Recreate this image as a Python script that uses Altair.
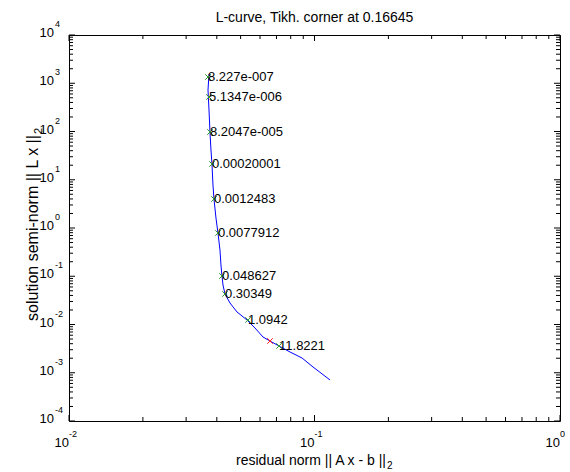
import altair as alt
import pandas as pd

# ---- data ----
curve_x = [0.03718, 0.03683, 0.03718, 0.03752, 0.03787, 0.03823, 0.03859, 0.03895,
           0.03969, 0.04044, 0.04121, 0.04159, 0.04199, 0.04239, 0.04319, 0.04527,
           0.04834, 0.05310, 0.05723, 0.06169, 0.06588, 0.07170, 0.07947, 0.08895,
           0.09861, 0.1157]
curve_y = [1555, 724.6, 279.0, 97.63, 41.36, 21.20, 7.783, 3.990,
           1.612, 0.7876, 0.3499, 0.1711, 0.1012, 0.06588, 0.04286, 0.02790,
           0.01816, 0.01240, 0.008464, 0.005507, 0.004550, 0.003584, 0.002692, 0.002022,
           0.001316, 0.0007074]

marker_x = [0.03683, 0.03718, 0.03752, 0.03823, 0.03895, 0.04044, 0.04199, 0.04319, 0.05359, 0.07170]
marker_y = [1347, 518.8, 97.63, 21.20, 3.990, 0.7876, 0.1012, 0.04286, 0.01240, 0.003584]
marker_labels = ["8.227e-007", "5.1347e-006", "8.2047e-005", "0.00020001", "0.0012483",
                 "0.0077912", "0.048627", "0.30349", "1.0942", "11.8221"]

corner_x = [0.06588]
corner_y = [0.004550]

x_major = [0.01, 0.1, 1.0]
x_exp = ["-2", "-1", "0"]
y_major = [1e-4, 1e-3, 1e-2, 1e-1, 1e0, 1e1, 1e2, 1e3, 1e4]
y_exp = ["-4", "-3", "-2", "-1", "0", "1", "2", "3", "4"]
minor_mult = [2, 3, 4, 5, 6, 7, 8, 9]

title_text = "L-curve, Tikh. corner at 0.16645"
xlabel_main = "residual norm || A x - b ||"
ylabel_main = "solution semi-norm || L x ||"
sub_text = "2"

# ---- layout ----
W, H = 491, 386
FONT = "Liberation Sans"
MAJ, MIN = 6, 4

x_minor = [m * d for d in x_major[:-1] for m in minor_mult]
y_minor = [m * d for d in y_major[:-1] for m in minor_mult]

xs = alt.Scale(type="log", domain=[0.01, 1], nice=False)
ys = alt.Scale(type="log", domain=[1e-4, 1e4], nice=False)

curve_df = pd.DataFrame({"x": curve_x, "y": curve_y, "i": list(range(len(curve_x)))})
mk_df = pd.DataFrame({"x": marker_x, "y": marker_y, "t": marker_labels})
cor_df = pd.DataFrame({"x": corner_x, "y": corner_y})
xmaj_df = pd.DataFrame({"v": x_major, "e": x_exp})
ymaj_df = pd.DataFrame({"v": y_major, "e": y_exp})
xmin_df = pd.DataFrame({"v": x_minor})
ymin_df = pd.DataFrame({"v": y_minor})

X = lambda f="x": alt.X(f"{f}:Q", scale=xs, axis=None)
Y = lambda f="y": alt.Y(f"{f}:Q", scale=ys, axis=None)

line = alt.Chart(curve_df).mark_line(color="#0000ff", strokeWidth=1).encode(
    x=X(), y=Y(), order="i:Q")

xshape = "M-1,-1L1,1M-1,1L1,-1"
markers = alt.Chart(mk_df).mark_point(shape=xshape, size=30, color="#2e9a2e",
                                       filled=False, strokeWidth=1, opacity=1).encode(x=X(), y=Y())
corner = alt.Chart(cor_df).mark_point(shape=xshape, size=30, color="#ff2020",
                                      filled=False, strokeWidth=1, opacity=1).encode(x=X(), y=Y())
labels = alt.Chart(mk_df).mark_text(align="left", baseline="middle", fontSize=13,
                                    font=FONT, color="black", dx=0).encode(
    x=X(), y=Y(), text="t:N")

layers = [line, markers, corner, labels]

# ticks (inward, all four sides)
for df, ln in [(xmaj_df, MAJ), (xmin_df, MIN)]:
    layers.append(alt.Chart(df).mark_rule(color="black", strokeWidth=1).encode(
        x=X("v"), y=alt.value(H), y2=alt.value(H - ln)))
    layers.append(alt.Chart(df).mark_rule(color="black", strokeWidth=1).encode(
        x=X("v"), y=alt.value(0), y2=alt.value(ln)))
for df, ln in [(ymaj_df, MAJ), (ymin_df, MIN)]:
    layers.append(alt.Chart(df).mark_rule(color="black", strokeWidth=1).encode(
        y=Y("v"), x=alt.value(0), x2=alt.value(ln)))
    layers.append(alt.Chart(df).mark_rule(color="black", strokeWidth=1).encode(
        y=Y("v"), x=alt.value(W), x2=alt.value(W - ln)))

# tick labels
layers.append(alt.Chart(xmaj_df).mark_text(align="right", baseline="alphabetic", fontSize=13,
                                           font=FONT, dx=0).encode(
    x=X("v"), y=alt.value(H + 26), text=alt.value("10")))
layers.append(alt.Chart(xmaj_df).mark_text(align="left", baseline="alphabetic", fontSize=9,
                                           font=FONT, dx=0).encode(
    x=X("v"), y=alt.value(H + 16), text="e:N"))
layers.append(alt.Chart(ymaj_df).mark_text(align="right", baseline="alphabetic", fontSize=13,
                                           font=FONT, dy=2).encode(
    y=Y("v"), x=alt.value(-15), text=alt.value("10")))
layers.append(alt.Chart(ymaj_df).mark_text(align="left", baseline="alphabetic", fontSize=9,
                                           font=FONT, dy=-8).encode(
    y=Y("v"), x=alt.value(-14), text="e:N"))

# titles
layers.append(alt.Chart(pd.DataFrame({"t": [title_text]})).mark_text(
    align="center", baseline="middle", fontSize=14, font=FONT).encode(
    x=alt.value(W / 2), y=alt.value(-17), text="t:N"))
layers.append(alt.Chart(pd.DataFrame({"t": [xlabel_main]})).mark_text(
    align="right", baseline="alphabetic", fontSize=14, font=FONT).encode(
    x=alt.value(317), y=alt.value(H + 44), text="t:N"))
layers.append(alt.Chart(pd.DataFrame({"t": [sub_text]})).mark_text(
    align="left", baseline="alphabetic", fontSize=10, font=FONT).encode(
    x=alt.value(318), y=alt.value(H + 48), text="t:N"))
layers.append(alt.Chart(pd.DataFrame({"t": [ylabel_main]})).mark_text(
    align="center", baseline="alphabetic", fontSize=16, font=FONT, angle=270).encode(
    x=alt.value(-31), y=alt.value(193), text="t:N"))
layers.append(alt.Chart(pd.DataFrame({"t": [sub_text]})).mark_text(
    align="left", baseline="alphabetic", fontSize=11, font=FONT, angle=270).encode(
    x=alt.value(-27), y=alt.value(99), text="t:N"))

chart = alt.layer(*layers).properties(
    width=W, height=H,
    autosize=alt.AutoSizeParams(type="none"),
    padding={"left": 69, "top": 35, "right": 10, "bottom": 51},
    background="white",
).configure_view(stroke="black", strokeWidth=1)

chart.save("out.html", embed_options={"renderer": "svg", "actions": False})
